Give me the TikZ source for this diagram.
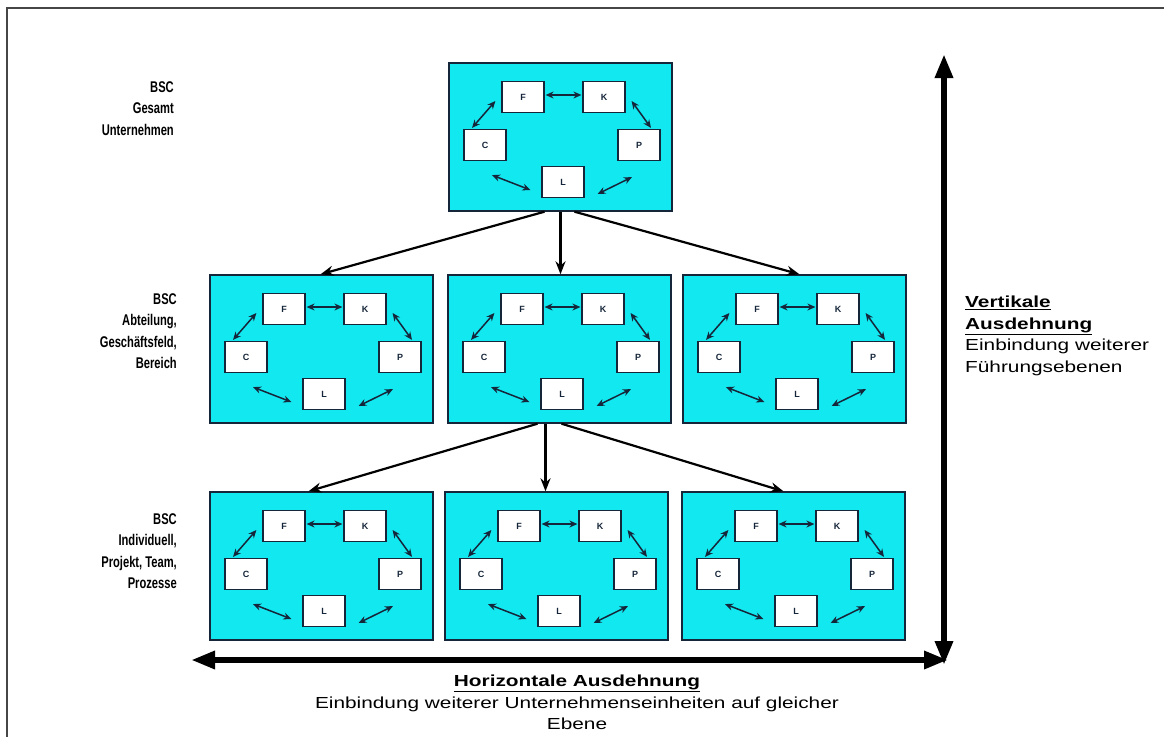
\documentclass[tikz,border=0pt]{standalone}
\usepackage{fontspec}
\setmainfont{Liberation Sans}
\newfontfamily\wideFont[FakeStretch=1.3]{Liberation Sans}
\newfontfamily\narrowFont[FakeStretch=0.72]{Liberation Sans}
\usetikzlibrary{arrows.meta}
\definecolor{cardfill}{RGB}{18,232,240}
\definecolor{cardline}{RGB}{22,38,58}
\definecolor{framegray}{RGB}{70,70,70}
\tikzset{
CARD/.style ={draw=cardline,fill=cardfill,line width=1.4pt,minimum width=223pt,minimum height=148pt,inner sep=0pt},
KPI/.style ={draw=cardline,fill=white,line width=1.2pt,minimum width=42pt,minimum height=31pt,inner sep=0pt,text=cardline,font=\fontsize{9}{9}\selectfont\bfseries},
TWOWAY/.style ={draw=cardline,line width=1.5pt,{Stealth[length=8pt,width=7pt]}-{Stealth[length=8pt,width=7pt]}},
LEVEL/.style ={draw=black,line width=2.2pt,-{Stealth[length=13pt,width=10pt]}},
AXIS/.style ={draw=black,line width=6pt,{Triangle[length=24pt,width=17pt]}-{Triangle[length=24pt,width=17pt]}},
LABEL/.style ={inner sep=0pt,font=\wideFont\fontsize{16}{21.5}\selectfont},
BLABEL/.style ={inner sep=0pt,font=\narrowFont\fontsize{15.5}{21.5}\selectfont\bfseries},
pics/bsc/.style={code={
	\node[CARD] (-box) at (111.5,74) {};
	\node[KPI] (-F) at (74,34) {F};
	\node[KPI] (-K) at (155,34) {K};
	\node[KPI] (-C) at (36,82) {C};
	\node[KPI] (-P) at (190,82) {P};
	\node[KPI] (-L) at (114,119) {L};
	\path[TWOWAY] ([shift={(1,-2)}]-F.east) -- ([shift={(-1,-2)}]-K.west);
	\path[TWOWAY] ([shift={(-6,4)}]-F.west) -- ([shift={(-13,-1)}]-C.north);
	\path[TWOWAY] ([shift={(6,4)}]-K.east) -- ([shift={(12,-1)}]-P.north);
	\path[TWOWAY] ([shift={(7,14)}]-C.south) -- ([shift={(-11,8)}]-L.west);
	\path[TWOWAY] ([shift={(13,12)}]-L.east) -- ([shift={(-7,16)}]-P.south);
}},
}

\begin{document}
\begin{tikzpicture}[x=1pt,y=-1pt] %BSC Ebenen
	\useasboundingbox[fill=white] (0,0) rectangle (1164,736);
	\draw[framegray,line width=2pt] (7,745) -- (7,8) -- (1170,8);
	% Karten
	\pic (top) at (449,63) {bsc};
	\pic (abtA) at (210,275) {bsc};
	\pic (abtB) at (448,275) {bsc};
	\pic (abtC) at (683,275) {bsc};
	\pic (indA) at (210,492) {bsc};
	\pic (indB) at (445,492) {bsc};
	\pic (indC) at (682,492) {bsc};
	% Kaskade
	\path[LEVEL] ([shift={(-16,0)}]top-box.south) -- ([shift={(-1,0)}]abtA-box.north);
	\path[LEVEL] (top-box.south) -- ([shift={(1,0)}]abtB-box.north);
	\path[LEVEL] ([shift={(14,0)}]top-box.south) -- ([shift={(5,0)}]abtC-box.north);
	\path[LEVEL] ([shift={(-22,0)}]abtB-box.south) -- ([shift={(-13,0)}]indA-box.north);
	\path[LEVEL] ([shift={(-14,0)}]abtB-box.south) -- ([shift={(-11,0)}]indB-box.north);
	\path[LEVEL] ([shift={(2,0)}]abtB-box.south) -- ([shift={(-10,0)}]indC-box.north);
	% Achsen
	\coordinate (vTop) at (944,54);
	\coordinate (vBot) at (944,665);
	\coordinate (hLeft) at (191,660);
	\coordinate (hRight) at (948,660);
	\path[AXIS] (vBot) -- (vTop);
	\path[AXIS] (hLeft) -- (hRight);
	% Texte
	\node[BLABEL,anchor=north east,align=right] (lblTop) at (174,81) {BSC\\Gesamt\\Unternehmen};
	\node[BLABEL,anchor=north east,align=right] (lblAbt) at (177,293) {BSC\\Abteilung,\\Gesch\"aftsfeld,\\Bereich};
	\node[BLABEL,anchor=north east,align=right] (lblInd) at (177,513) {BSC\\Individuell,\\Projekt, Team,\\Prozesse};
	\node[LABEL,anchor=north west,align=left] (lblVert) at (965,296) {\textbf{\underline{Vertikale}}\\\textbf{\underline{Ausdehnung}}\\Einbindung weiterer\\F\"uhrungsebenen};
	\node[LABEL,anchor=north,align=center] (lblHor) at (577,675) {\textbf{\underline{Horizontale Ausdehnung}}\\Einbindung weiterer Unternehmenseinheiten auf gleicher\\Ebene};
\end{tikzpicture}
\end{document}
